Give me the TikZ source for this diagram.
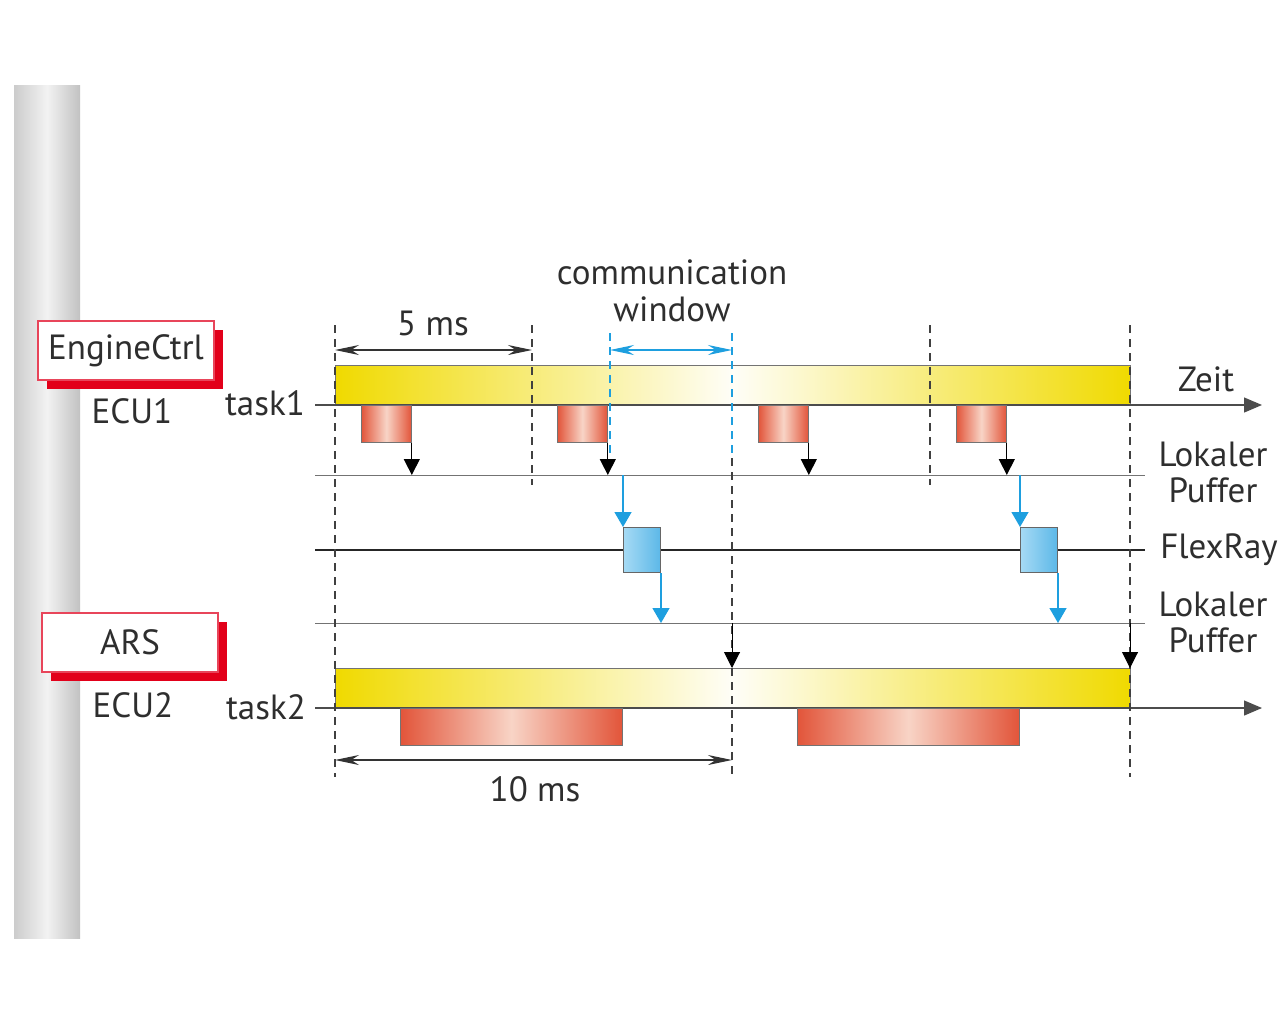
\documentclass[tikz,border=0pt]{standalone}
\usepackage{fontspec}
\setmainfont{PT Sans}
\usetikzlibrary{arrows.meta,shadows}
\definecolor{ylw}{HTML}{F0DA00}
\definecolor{redE}{HTML}{E2001A}
\definecolor{redB}{HTML}{E8455A}
\definecolor{jobR}{HTML}{E2553A}
\definecolor{jobP}{HTML}{F8D4C6}
\definecolor{flexB}{HTML}{1E9FDF}
\definecolor{boxB1}{HTML}{A6DAF4}
\definecolor{boxB2}{HTML}{5CB8E8}
\definecolor{txt}{HTML}{2E2E2E}
\tikzset{
  lbl/.style={font=\fontsize{17.5}{18}\selectfont, text=txt, inner sep=0pt, align=center},
  ybar/.style={draw=black!55, line width=0.5pt, left color=ylw, right color=ylw, middle color=ylw!3, minimum width=397.5pt, minimum height=20pt, anchor=north west, inner sep=0pt},
  job/.style={draw=black!55, line width=0.4pt, left color=jobR, right color=jobR, middle color=jobP, minimum height=18.5pt, anchor=north west, inner sep=0pt},
  msg/.style={draw=black!60, line width=0.5pt, left color=boxB1, right color=boxB2, minimum width=18.5pt, minimum height=22.5pt, anchor=north west, inner sep=0pt},
  vdash/.style={dash pattern=on 4pt off 3pt, line width=0.6pt, black!75},
  bdash/.style={dash pattern=on 4pt off 3pt, line width=0.7pt, flexB},
  tarrow/.style={-{Triangle[width=8pt,length=8pt]}, line width=0.5pt, black},
  barrow/.style={-{Triangle[width=8.5pt,length=7.5pt]}, line width=0.7pt, flexB},
  dim/.style={{Stealth[length=12pt,width=5pt]}-{Stealth[length=12pt,width=5pt]}, line width=0.6pt},
  ecu/.style={draw=redB, fill=white, line width=0.8pt, minimum width=88pt, minimum height=29.5pt, inner sep=0pt,
    font=\fontsize{17.5}{18}\selectfont, text=txt,
    drop shadow={shadow xshift=4.5pt, shadow yshift=-4.5pt, fill=redE, opacity=1}},
  bufline/.style={black!55, line width=0.5pt},
  axis/.style={black!70, line width=0.6pt, -{Triangle[width=7.5pt,length=9pt]}}
}
\begin{document}
\begin{tikzpicture}[x=0.5pt,y=-0.5pt]
\useasboundingbox (0,0) rectangle (1280,1024);
% pillar
\shade[left color=gray!40, right color=gray!48, middle color=gray!10] (14,85) rectangle (80,938);
% ECU boxes
\node[ecu] (ecu1) at (126,350.5) {EngineCtrl};
\node[ecu] (ecu2) at (130,642.5) {ARS};
\node[lbl] (ecu1l) at (132,411) {ECU1};
\node[lbl] (ecu2l) at (133,705) {ECU2};
\node[lbl] (t1) at (265,403) {task1};
\node[lbl] (t2) at (266,707) {task2};
% bars
\node[ybar] (bar1) at (335,365) {};
\node[ybar] (bar2) at (335,668) {};
% axes and lines
\coordinate (a1s) at (315,405); \coordinate (a1e) at (1262,405);
\coordinate (a2s) at (315,708); \coordinate (a2e) at (1262,708);
\draw[axis] (a1s) -- (a1e);
\draw[axis] (a2s) -- (a2e);
\coordinate (b1s) at (315,475); \coordinate (b1e) at (1145,475);
\coordinate (fs) at (315,550); \coordinate (fe) at (1145,550);
\coordinate (b2s) at (315,623); \coordinate (b2e) at (1145,623);
\draw[bufline] (b1s) -- (b1e);
\draw[black!85, line width=1.1pt] (fs) -- (fe);
\draw[bufline] (b2s) -- (b2e);
% jobs task1
\node[job, minimum width=25pt] (j1) at (361,405) {};
\node[job, minimum width=25pt] (j2) at (557,405) {};
\node[job, minimum width=25pt] (j3) at (758,405) {};
\node[job, minimum width=25pt] (j4) at (956,405) {};
% jobs task2
\node[job, minimum width=111pt] (k1) at (400,708) {};
\node[job, minimum width=111pt] (k2) at (797,708) {};
% messages
\node[msg] (m1) at (623,527) {};
\node[msg] (m2) at (1020,527) {};
% dashed lines
\coordinate (d0t) at (335,325); \coordinate (d0b) at (335,777);
\coordinate (d1t) at (532,325); \coordinate (d1b) at (532,485);
\coordinate (d3t) at (930,325); \coordinate (d3b) at (930,485);
\coordinate (d4t) at (1130,325); \coordinate (d4b) at (1130,777);
\coordinate (d2t) at (732,458); \coordinate (d2b) at (732,777);
\draw[vdash] (d0t) -- (d0b);
\draw[vdash] (d1t) -- (d1b);
\draw[vdash] (d3t) -- (d3b);
\draw[vdash] (d4t) -- (d4b);
\draw[vdash] (d2t) -- (d2b);
\coordinate (cwl) at (610,333); \coordinate (cwlb) at (610,470);
\coordinate (cwr) at (732,333); \coordinate (cwrb) at (732,458);
\draw[bdash] (cwl) -- (cwlb);
\draw[bdash] (cwr) -- (cwrb);
% job arrows to buffer
\foreach \j in {j1,j2,j3,j4}{
  \draw[tarrow] (\j.south east) -- (\j.south east |- b1s);
}
% message arrows
\draw[barrow] (m1.north west |- b1s) -- (m1.north west);
\draw[barrow] (m1.south east) -- (m1.south east |- b2s);
\draw[barrow] (m2.north west |- b1s) -- (m2.north west);
\draw[barrow] (m2.south east) -- (m2.south east |- b2s);
% buffer to task2
\coordinate (r1) at (732,623); \coordinate (r2) at (1130,623);
\draw[tarrow] (r1) -- (r1 |- bar2.north);
\draw[tarrow] (r2) -- (r2 |- bar2.north);
% dimensions
\coordinate (f5a) at (335,350); \coordinate (f5b) at (532,350);
\draw[dim, black!80] (f5a) -- (f5b);
\node[lbl] (l5) at (433,323) {5 ms};
\coordinate (cwa) at (610,350); \coordinate (cwb) at (732,350);
\draw[dim, flexB, line width=0.7pt] (cwa) -- (cwb);
\node[lbl, font=\fontsize{17.5}{18.5}\selectfont] (lcw) at (672,291) {communication\\window};
\coordinate (f10a) at (335,760); \coordinate (f10b) at (732,760);
\draw[dim, black!80] (f10a) -- (f10b);
\node[lbl] (l10) at (535,789) {10 ms};
% right labels
\node[lbl] (zeit) at (1206,379) {Zeit};
\node[lbl] (lp1) at (1213,472) {Lokaler\\Puffer};
\node[lbl] (fr) at (1219,550) {FlexRay};
\node[lbl] (lp2) at (1213,622) {Lokaler\\Puffer};
\end{tikzpicture}
\end{document}
